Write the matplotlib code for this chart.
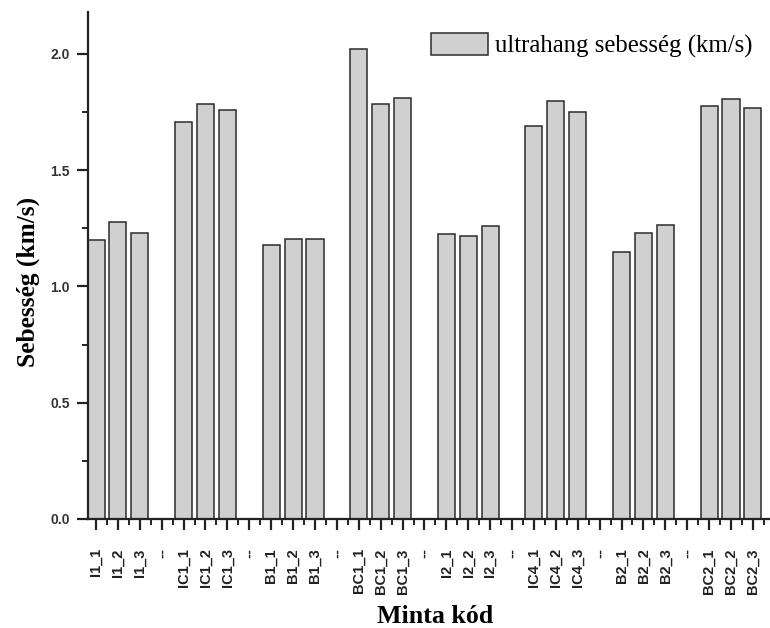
import numpy as np
import matplotlib
matplotlib.use("Agg")
import matplotlib.pyplot as plt
from matplotlib.ticker import MultipleLocator, FixedLocator

# Sample codes, three specimens per series
samples = ["I1_1", "I1_2", "I1_3",
           "IC1_1", "IC1_2", "IC1_3",
           "B1_1", "B1_2", "B1_3",
           "BC1_1", "BC1_2", "BC1_3",
           "I2_1", "I2_2", "I2_3",
           "IC4_1", "IC4_2", "IC4_3",
           "B2_1", "B2_2", "B2_3",
           "BC2_1", "BC2_2", "BC2_3"]

# Ultrasonic pulse velocity, km/s
speeds = [1.20, 1.275, 1.228,
          1.706, 1.785, 1.757,
          1.177, 1.204, 1.204,
          2.022, 1.783, 1.810,
          1.226, 1.217, 1.261,
          1.690, 1.799, 1.751,
          1.150, 1.231, 1.263,
          1.776, 1.804, 1.768]

separator = "--"
group_size = 3

# Build the category axis: a "--" slot between groups
positions = [i + i // group_size for i in range(len(samples))]
tick_pos = list(range(positions[-1] + 1))
tick_labels = []
for p in tick_pos:
    if p in positions:
        tick_labels.append(samples[positions.index(p)])
    else:
        tick_labels.append(separator)

fig = plt.figure(figsize=(7.7, 6.28), dpi=100)
ax = fig.add_axes([88 / 770, 109 / 628, 682 / 770, 507 / 628])

ax.bar(positions, speeds, width=0.78, color="#d0d0d0",
       edgecolor="#2b2b2b", linewidth=1.1, label="ultrahang sebesség (km/s)",
       zorder=2)

ax.set_xlim(-0.365, 30.78)
ax.set_ylim(0, 2.18)

for side in ("top", "right"):
    ax.spines[side].set_visible(False)
for side in ("left", "bottom"):
    ax.spines[side].set_linewidth(1.6)
    ax.spines[side].set_color("#222222")

ax.set_xticks(tick_pos)
ax.set_xticklabels(tick_labels, rotation=90, fontsize=10.5,
                   fontweight="bold", family="Liberation Sans", color="#222222")
ax.xaxis.set_minor_locator(FixedLocator([p + 0.5 for p in tick_pos]))

ax.yaxis.set_major_locator(MultipleLocator(0.5))
ax.yaxis.set_minor_locator(MultipleLocator(0.25))
ax.set_yticks(np.arange(0, 2.01, 0.5))
ax.set_yticklabels([f"{v:.1f}" for v in np.arange(0, 2.01, 0.5)],
                   fontsize=10, fontweight="bold", family="Liberation Sans",
                   color="#333333")

ax.tick_params(axis="both", which="major", direction="out", length=8,
               width=1.6, color="#222222", pad=5)
ax.tick_params(axis="both", which="minor", direction="out", length=4,
               width=1.4, color="#222222")
ax.tick_params(axis="x", which="major", pad=13)

ax.set_ylabel("Sebesség (km/s)", fontsize=18.3, fontweight="bold",
              family="Liberation Serif")
ax.yaxis.set_label_coords(-0.071, 0.467)
ax.set_xlabel("Minta kód", fontsize=18.6, fontweight="bold",
              family="Liberation Serif")
ax.xaxis.set_label_coords(0.509, -0.169)

ax.legend(loc="upper left", bbox_to_anchor=(431 / 770, 1 - 33 / 628),
          bbox_transform=fig.transFigure, frameon=False, borderpad=0,
          borderaxespad=0, handlelength=2.3, handleheight=0.97,
          handletextpad=0.3,
          prop={"family": "Liberation Serif", "size": 17.8})

fig.savefig("out.png", dpi=100)
